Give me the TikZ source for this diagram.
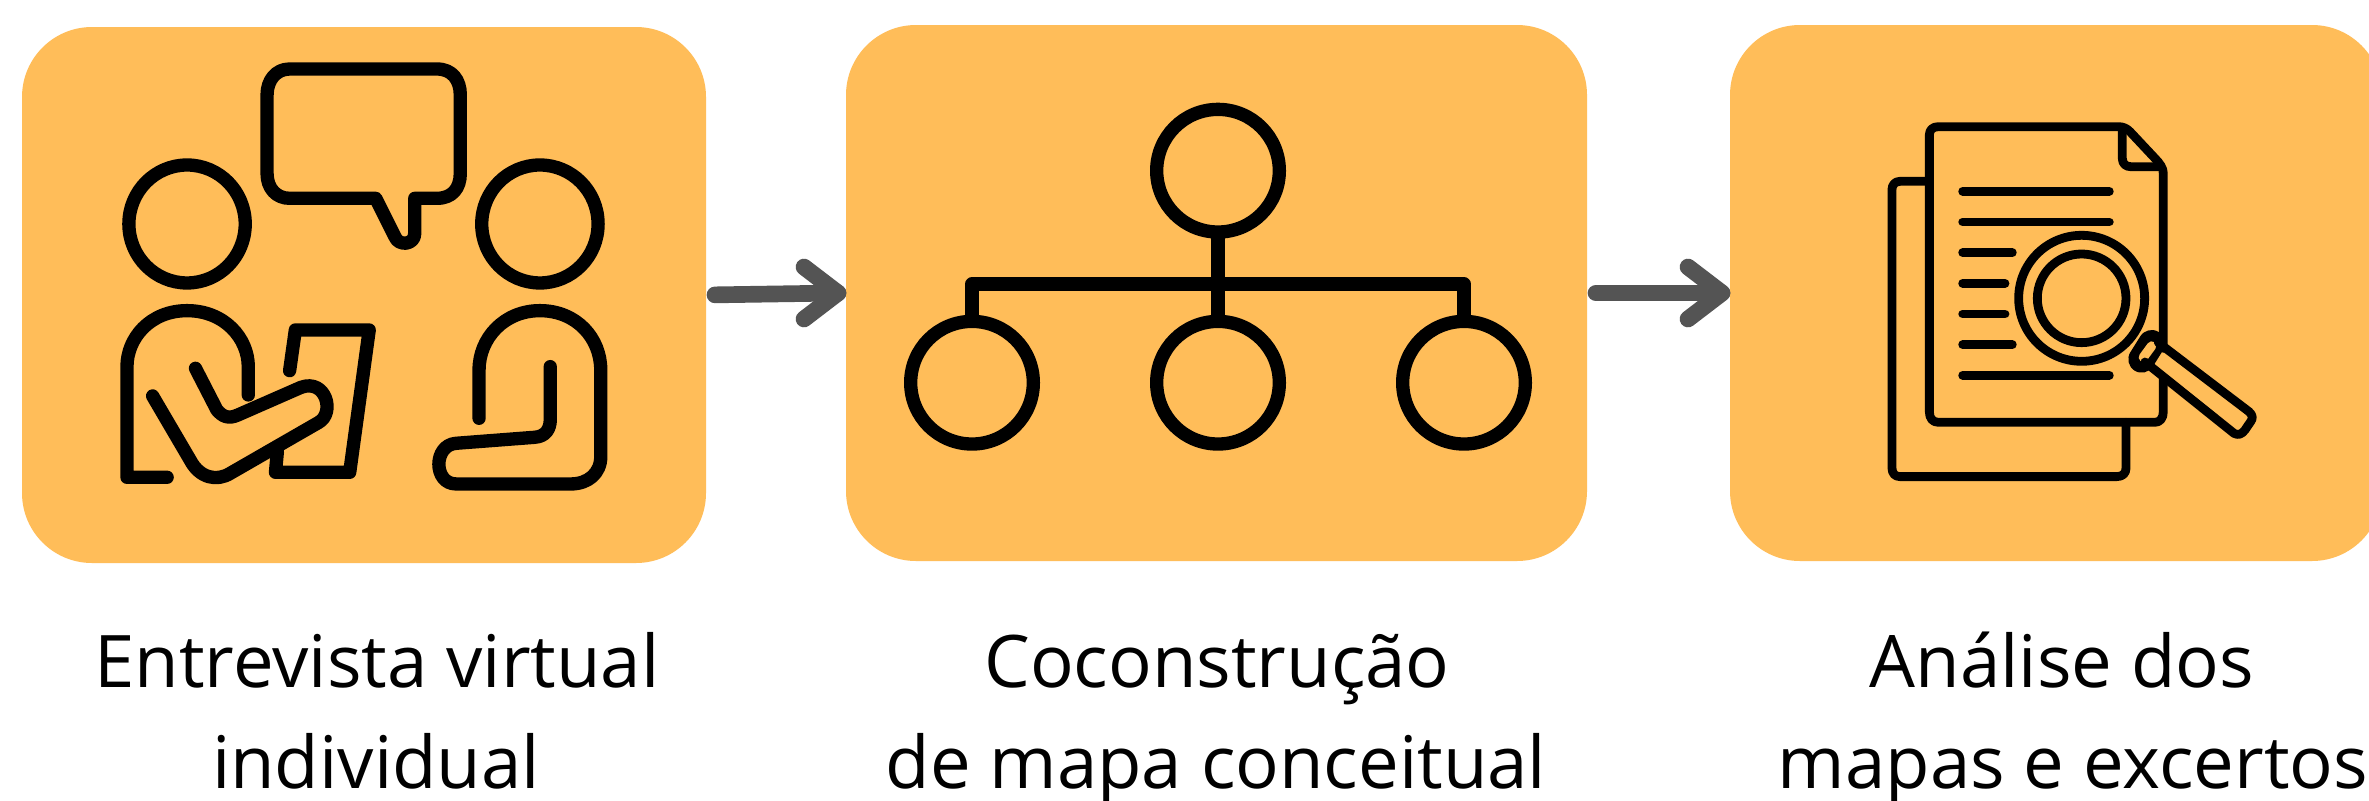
\documentclass[tikz,border=0pt]{standalone}
\usepackage{fontspec}
\setmainfont{Open Sans}
\definecolor{boxfill}{HTML}{FFBD59}
\definecolor{arrowgrey}{HTML}{545454}
\tikzset{
  panel/.style={fill=boxfill,draw=none,rounded corners=70*0.75pt,inner sep=0pt,outer sep=0pt},
  link/.style={draw=arrowgrey,line width=12.5pt,line cap=round,line join=round},
  ink/.style={draw=black,line cap=round,line join=round},
  inkA/.style={ink,line width=10pt},
  inkC/.style={ink,line width=6.6pt},
  orb/.style={circle,draw=black,line width=10pt,minimum size=92pt,inner sep=0pt,outer sep=0pt},
  lbl/.style={anchor=base,inner sep=0pt,font=\fontsize{54.4}{60}\selectfont,text=black},
}
\begin{document}
\begin{tikzpicture}[x=0.75pt,y=-0.75pt]
\useasboundingbox (0,0) rectangle (2369,800);
\fill[white] (0,0) rectangle (2369,800);
% panels
\node[panel,minimum width=684*0.75pt,minimum height=536*0.75pt] (box1) at (364,295) {};
\node[panel,minimum width=741*0.75pt,minimum height=536*0.75pt] (box2) at (1216.5,293) {};
\node[panel,minimum width=652*0.75pt,minimum height=536*0.75pt] (box3) at (2056,293) {};
% arrows
\draw[link,shorten <=6.75pt] (box1.east) -- ([xshift=-8*0.75pt]box2.west);
\draw[link] ([shift={(-42,-26)}]box2.west) -- ([shift={(-8,0)}]box2.west) -- ([shift={(-42,26)}]box2.west);
\draw[link,shorten <=6.75pt] (box2.east) -- ([xshift=-8*0.75pt]box3.west);
\draw[link] ([shift={(-42,-26)}]box3.west) -- ([shift={(-8,0)}]box3.west) -- ([shift={(-42,26)}]box3.west);
% icon 1
\begin{scope}[shift={(60,30)},xscale=0.3827,yscale=0.3333]
\draw[inkA] (332,582) ellipse [x radius=152,y radius=177];
\draw[inkA] (1254,582) ellipse [x radius=152,y radius=177];
\draw[inkA] (600,117) -- (985,117) .. controls (1025,117) and (1046,150) .. (1046,195)
  -- (1046,430) .. controls (1046,475) and (1025,505) .. (985,505) -- (927,505) -- (927,610)
  .. controls (927,645) and (885,650) .. (875,620) -- (825,505) -- (600,505)
  .. controls (565,505) and (541,475) .. (541,430) -- (541,195)
  .. controls (541,150) and (565,117) .. (600,117) -- cycle;
\draw[inkA] (280,1342) -- (175,1342) -- (175,1010) .. controls (175,925) and (235,842) .. (332,842)
  .. controls (430,842) and (492,925) .. (492,1010) -- (492,1095);
\draw[inkA] (242,1098) -- (340,1290) .. controls (365,1345) and (410,1355) .. (445,1330)
  -- (675,1178) .. controls (720,1150) and (695,1045) .. (630,1072) -- (465,1155)
  .. controls (440,1168) and (425,1160) .. (410,1140) -- (354,1015);
\draw[inkA] (600,1022) -- (615,900) -- (808,900) -- (757,1327) -- (563,1327) -- (568,1265);
\draw[inkA] (1095,1165) -- (1095,1020) .. controls (1095,925) and (1160,842) .. (1254,842)
  .. controls (1350,842) and (1413,925) .. (1413,1020) -- (1413,1280)
  .. controls (1413,1330) and (1380,1362) .. (1335,1362) -- (1035,1362)
  .. controls (975,1362) and (975,1245) .. (1035,1240) -- (1240,1222)
  .. controls (1270,1220) and (1281,1195) .. (1281,1170) -- (1281,1010);
\end{scope}
% icon 2
\node[orb] (top) at (1218,170.7) {};
\node[orb] (kidL) at (972,382.7) {};
\node[orb] (kidM) at (1218,382.7) {};
\node[orb] (kidR) at (1464,382.7) {};
\coordinate (hub) at (1218,284);
\draw[inkA,line cap=butt] (kidL.north) |- (hub) -| (kidR.north);
\draw[inkA,line cap=butt] (top.south) -- (kidM.north);
% icon 3
\begin{scope}[shift={(1850,90)},xscale=0.3333,yscale=0.3333]
\draw[inkC] (238,274) -- (150,274) .. controls (135,274) and (126,285) .. (126,298) -- (126,1135)
  .. controls (126,1150) and (135,1160) .. (150,1160) -- (800,1160)
  .. controls (818,1160) and (828,1150) .. (828,1135) -- (828,997);
\draw[inkC] (940,775) -- (940,250) .. controls (940,235) and (930,220) .. (915,205)
  -- (840,125) .. controls (830,115) and (820,110) .. (805,110) -- (265,110)
  .. controls (248,110) and (238,120) .. (238,135) -- (238,965)
  .. controls (238,985) and (248,997) .. (265,997) -- (915,997)
  .. controls (930,997) and (940,985) .. (940,965) -- (940,865);
\draw[inkC] (817,115) -- (817,205) .. controls (817,222) and (828,230) .. (842,230) -- (925,230);
\foreach \yy/\xx in {304/778,396/778,488/487,580/465,672/465,764/487,856/778}
  \draw[inkC] (338,\yy) -- (\xx,\yy);
\draw[inkC] (695,625) circle [radius=189];
\draw[inkC] (695,625) circle [radius=133];
\draw[black,line width=20pt,line cap=round] (905,760) -- (875,808);
\draw[boxfill,line width=7pt,line cap=round] (905,768) -- (880,802);
\draw[inkC] (925,758) -- (1197,965) .. controls (1208,975) and (1210,985) .. (1202,995)
  -- (1185,1020) .. controls (1175,1033) and (1165,1037) .. (1152,1030) -- (885,816);
\end{scope}
% labels
\node[lbl] (t1a) at (377,687) {Entrevista virtual};
\node[lbl] (t1b) at (376,788) {individual};
\node[lbl] (t2a) at (1217,687) {Coconstrução};
\node[lbl] (t2b) at (1216,788) {de mapa conceitual};
\node[lbl] (t3a) at (2062,687) {Análise dos};
\node[lbl] (t3b) at (2073,788) {mapas e excertos};
\end{tikzpicture}
\end{document}
